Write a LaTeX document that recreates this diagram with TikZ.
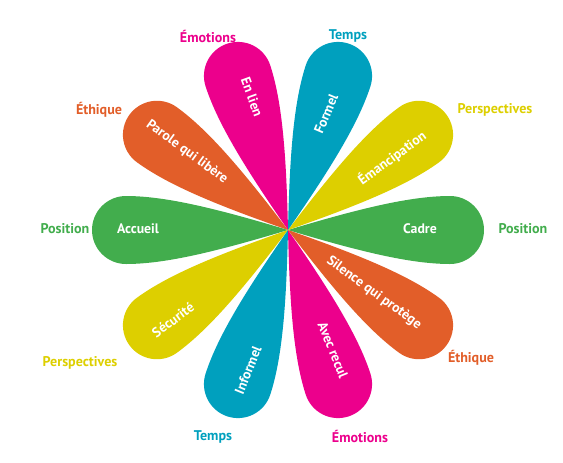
\documentclass[tikz,border=0pt]{standalone}
\usepackage{fontspec}
\setmainfont{PT Sans}
\usepackage{tikz}

\definecolor{petalgreen}{RGB}{66,173,77}
\definecolor{petalyellow}{RGB}{221,207,0}
\definecolor{petalcyan}{RGB}{0,160,190}
\definecolor{petalpink}{RGB}{236,0,140}
\definecolor{petalorange}{RGB}{226,94,41}

\tikzset{
  inner/.style={text=white,font=\bfseries\fontsize{9.8}{11}\selectfont},
  outer/.style={font=\bfseries\fontsize{10}{11}\selectfont}
}

\begin{document}
\begin{tikzpicture}[x=0.025cm,y=0.025cm]
        \useasboundingbox (-288,-232) rectangle (275,230);

        % petals, one every 36 degrees
        \foreach \ang/\col in {0/petalgreen,36/petalyellow,72/petalcyan,108/petalpink,144/petalorange,
                               180/petalgreen,216/petalyellow,252/petalcyan,288/petalpink,324/petalorange}
          \fill[\col,rotate=\ang] (0,0) .. controls (70,21) and (122,34) .. (162,34)
            arc[start angle=90,end angle=-90,radius=34] .. controls (122,-34) and (70,-21) .. (0,0);

        \node[inner] (cadre) at (132,1) {Cadre};
        \node[inner,rotate=36] (emanc) at (104,72) {Émancipation};
        \node[inner,rotate=67] (formel) at (38,116) {Formel};
        \node[inner,rotate=-70] (enlien) at (-36,133) {En lien};
        \node[inner,rotate=-36] (parole) at (-101,78) {Parole qui libère};
        \node[inner] (accueil) at (-150,1) {Accueil};
        \node[inner,rotate=36] (secur) at (-115,-90) {Sécurité};
        \node[inner,rotate=68] (informel) at (-40,-140) {Informel};
        \node[inner,rotate=-68] (recul) at (45,-120) {Avec recul};
        \node[inner,rotate=-36] (silence) at (86,-63) {Silence qui protège};

        \node[outer,petalpink] (emotA) at (-80,194) {Émotions};
        \node[outer,petalcyan] (tempsA) at (60,194) {Temps};
        \node[outer,petalorange] (ethA) at (-189,120) {Éthique};
        \node[outer,petalyellow] (perspA) at (207,120) {Perspectives};
        \node[outer,petalgreen] (posA) at (-223,1) {Position};
        \node[outer,petalgreen] (posB) at (235,1) {Position};
        \node[outer,petalyellow] (perspB) at (-208,-133) {Perspectives};
        \node[outer,petalcyan] (tempsB) at (-75,-207) {Temps};
        \node[outer,petalorange] (ethB) at (183,-128) {Éthique};
        \node[outer,petalpink] (emotB) at (72,-206) {Émotions};
      \end{tikzpicture}
\end{document}
